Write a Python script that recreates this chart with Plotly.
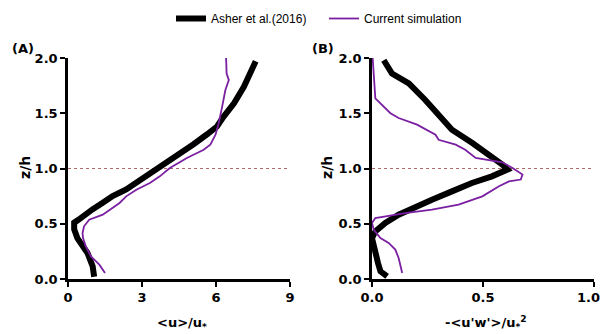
import plotly.graph_objects as go

# Panel A: mean velocity <u>/u*
asher_u = [1.06, 1.00, 0.79, 0.52, 0.38, 0.25, 0.25, 0.45, 0.65, 0.99, 1.41, 1.81, 2.36, 2.77, 3.18, 3.59, 4.00, 4.55, 5.09, 5.64, 6.04, 6.31, 6.73, 7.13, 7.41, 7.61]
asher_u_z = [0.02, 0.115, 0.235, 0.31, 0.37, 0.45, 0.51, 0.54, 0.58, 0.63, 0.69, 0.75, 0.81, 0.87, 0.93, 0.99, 1.065, 1.14, 1.22, 1.31, 1.38, 1.47, 1.59, 1.74, 1.86, 1.97]

sim_u = [1.50, 1.27, 0.93, 0.72, 0.61, 0.59, 0.65, 0.86, 1.41, 1.81, 2.09, 2.36, 2.77, 3.32, 3.72, 4.13, 4.82, 5.50, 5.77, 5.98, 6.11, 6.25, 6.38, 6.52, 6.43, 6.41]
sim_u_z = [0.054, 0.13, 0.205, 0.296, 0.37, 0.416, 0.477, 0.537, 0.582, 0.643, 0.688, 0.748, 0.808, 0.869, 0.929, 1.005, 1.095, 1.17, 1.216, 1.306, 1.41, 1.56, 1.71, 1.80, 1.86, 2.00]

# Panel B: Reynolds stress -<u'w'>/u*^2
asher_uw = [0.068, 0.038, 0.027, 0.015, 0.003, 0.0, 0.015, 0.06, 0.12, 0.196, 0.27, 0.36, 0.45, 0.54, 0.61, 0.587, 0.527, 0.452, 0.36, 0.30, 0.24, 0.166, 0.09, 0.053]
asher_uw_z = [0.024, 0.07, 0.145, 0.235, 0.326, 0.37, 0.43, 0.507, 0.582, 0.658, 0.718, 0.793, 0.869, 0.929, 0.99, 1.035, 1.125, 1.23, 1.35, 1.49, 1.62, 1.77, 1.86, 1.98]

sim_uw = [0.136, 0.12, 0.105, 0.075, 0.038, 0.008, 0.0, 0.015, 0.15, 0.27, 0.39, 0.497, 0.572, 0.617, 0.67, 0.678, 0.633, 0.587, 0.467, 0.42, 0.377, 0.30, 0.286, 0.203, 0.12, 0.083, 0.015, 0.008, 0.003]
sim_uw_z = [0.054, 0.19, 0.266, 0.326, 0.37, 0.446, 0.507, 0.552, 0.597, 0.627, 0.673, 0.748, 0.839, 0.884, 0.90, 0.945, 1.005, 1.056, 1.095, 1.17, 1.216, 1.26, 1.306, 1.397, 1.457, 1.50, 1.635, 1.83, 2.00]

xa_ticks = [0, 3, 6, 9]
xb_ticks = [0.0, 0.5, 1.0]
xb_ticktext = ["0.0", "0.5", "1.0"]
y_ticks = [0.0, 0.5, 1.0, 1.5, 2.0]

BLACK = "#000000"
PURPLE = "#7b1fa2"
W, H = 603, 334
MT = 30
PH = H - MT


def px(x):
    return x / W


def py(y):
    return (H - y) / PH


fig = go.Figure()
fig.add_trace(go.Scatter(x=asher_u, y=asher_u_z, mode="lines", name="Asher et al.(2016)",
                         line=dict(color=BLACK, width=6), xaxis="x", yaxis="y"))
fig.add_trace(go.Scatter(x=sim_u, y=sim_u_z, mode="lines", name="Current simulation",
                         line=dict(color=PURPLE, width=1.8), xaxis="x", yaxis="y"))
fig.add_trace(go.Scatter(x=asher_uw, y=asher_uw_z, mode="lines", showlegend=False,
                         line=dict(color=BLACK, width=6), xaxis="x2", yaxis="y2"))
fig.add_trace(go.Scatter(x=sim_uw, y=sim_uw_z, mode="lines", showlegend=False,
                         line=dict(color=PURPLE, width=1.8), xaxis="x2", yaxis="y2"))

tickfont = dict(family="DejaVu Sans", size=13, color="black", weight="bold")
ax_common = dict(showline=True, linecolor="black", linewidth=2.5, ticks="outside",
                 ticklen=5, tickwidth=2, tickcolor="black", showgrid=False,
                 zeroline=False, tickfont=tickfont, automargin=False,
                 ticklabeloverflow="allow")

yd = [py(279), py(58)]
fig.update_layout(
    width=W, height=H, margin=dict(l=0, r=0, t=MT, b=0, autoexpand=False),
    paper_bgcolor="white", plot_bgcolor="white",
    xaxis=dict(domain=[px(68), px(290)], range=[0, 9], tickvals=xa_ticks,
               ticktext=[str(v) for v in xa_ticks], anchor="y", **ax_common),
    yaxis=dict(domain=yd, range=[0, 2], tickvals=y_ticks,
               ticktext=[f"{v:.1f}" for v in y_ticks], anchor="x", **ax_common),
    # last tick label of panel B is drawn as an annotation so it stays inside the page
    xaxis2=dict(domain=[px(372), px(594)], range=[0, 1], tickvals=xb_ticks,
                ticktext=xb_ticktext[:-1] + [" "], anchor="y2", **ax_common),
    yaxis2=dict(domain=yd, range=[0, 2], tickvals=y_ticks,
                ticktext=[f"{v:.1f}" for v in y_ticks], anchor="x2", **ax_common),
    legend=dict(orientation="h", x=px(171), xanchor="left", y=py(4), yanchor="top",
                font=dict(family="Liberation Sans", size=12, color="black"),
                entrywidth=108, entrywidthmode="pixels", bgcolor="rgba(0,0,0,0)"),
    shapes=[
        dict(type="line", xref="x", yref="y", x0=0, x1=9, y0=1, y1=1,
             line=dict(color="#b06a6a", width=1, dash="dot"), layer="below"),
        dict(type="line", xref="x2", yref="y2", x0=0, x1=1, y0=1, y1=1,
             line=dict(color="#b06a6a", width=1, dash="dot"), layer="below"),
    ],
)

lab = dict(family="DejaVu Sans", size=13, color="black", weight="bold")
ann = [
    dict(text="(A)", x=px(23), y=py(48)),
    dict(text="(B)", x=px(323), y=py(48)),
    dict(text="z/h", x=px(25), y=py(168), textangle=-90, font=dict(lab, size=14)),
    dict(text="z/h", x=px(327), y=py(168), textangle=-90, font=dict(lab, size=14)),
    dict(text="&lt;u&gt;/u<sub>*</sub>", x=px(182), y=py(323)),
    dict(text="-&lt;u'w'&gt;/u<sub>*</sub><sup>2</sup>", x=px(486), y=py(323)),
]
for a in ann:
    a.setdefault("font", lab)
    fig.add_annotation(xref="paper", yref="paper", showarrow=False,
                       xanchor="center", yanchor="middle", **a)

fig.add_annotation(xref="x2", yref="paper", x=xb_ticks[-1], y=py(297), text=xb_ticktext[-1],
                   showarrow=False, xanchor="right", xshift=8, yanchor="middle", font=tickfont)

fig.write_html("out.html")
